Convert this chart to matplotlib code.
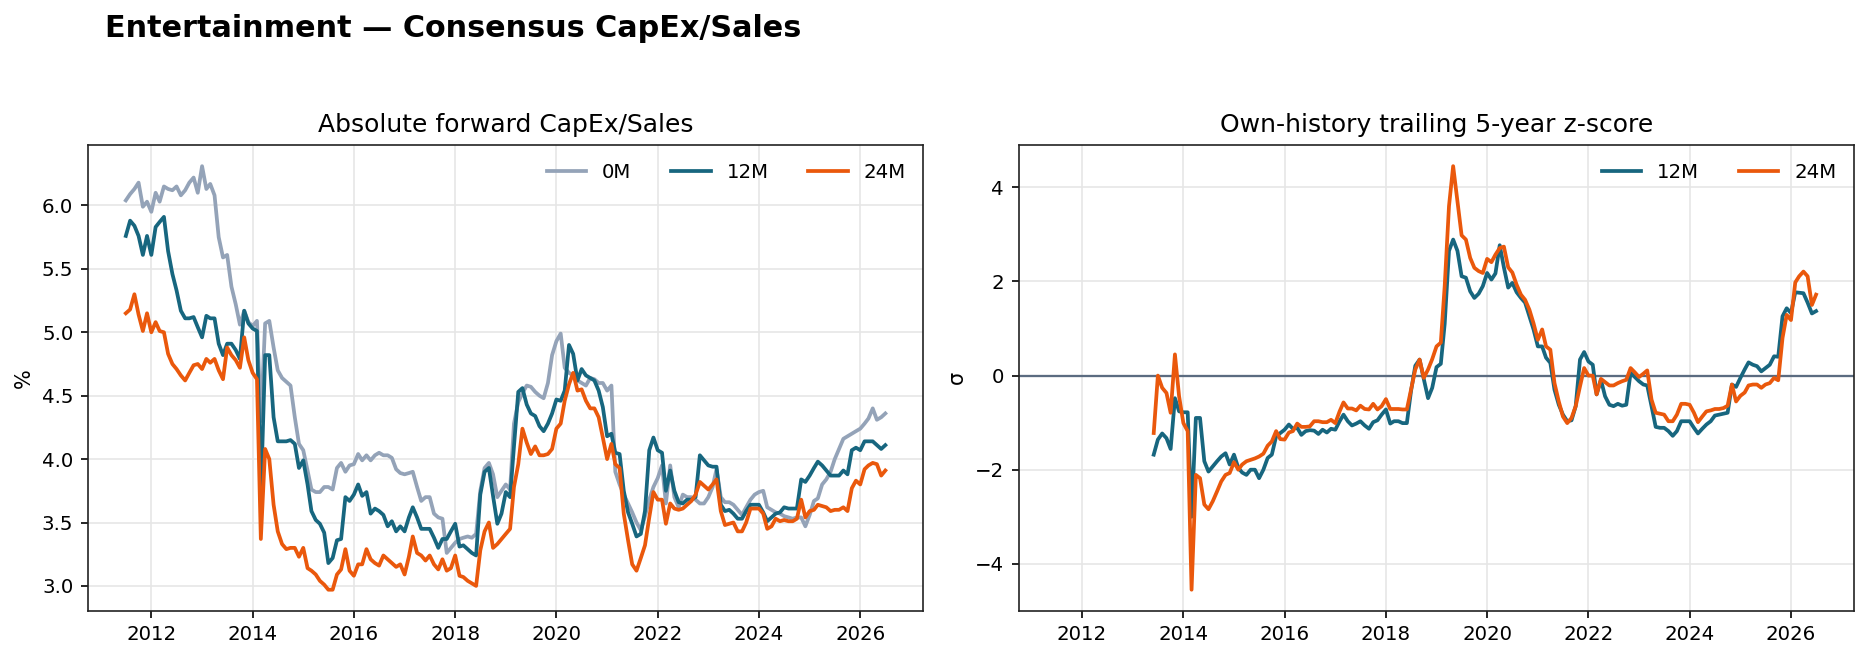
import numpy as np
import pandas as pd
import matplotlib
matplotlib.use("Agg")
import matplotlib.pyplot as plt

# monthly, 2011-07 .. 2026-07
dates = pd.date_range("2011-07-01", periods=181, freq="MS")

capex_0m = [
    6.04, 6.09, 6.13, 6.18, 5.99, 6.03, 5.95, 6.10, 6.03, 6.15,
    6.13, 6.12, 6.15, 6.08, 6.12, 6.18, 6.22, 6.10, 6.31, 6.13,
    6.17, 6.08, 5.75, 5.59, 5.61, 5.36, 5.22, 5.06, 5.17, 5.08,
    5.05, 5.09, 4.30, 5.07, 5.09, 4.88, 4.70, 4.64, 4.61, 4.58,
    4.33, 4.12, 4.07, 3.91, 3.76, 3.74, 3.74, 3.78, 3.78, 3.76,
    3.93, 3.97, 3.90, 3.95, 3.96, 4.04, 3.99, 4.03, 3.99, 4.03,
    4.05, 4.03, 4.03, 4.01, 3.92, 3.89, 3.88, 3.89, 3.90, 3.78,
    3.67, 3.70, 3.70, 3.57, 3.54, 3.53, 3.26, 3.30, 3.34, 3.37,
    3.38, 3.39, 3.38, 3.41, 3.75, 3.93, 3.97, 3.88, 3.70, 3.75,
    3.80, 3.76, 4.28, 4.45, 4.52, 4.58, 4.57, 4.53, 4.50, 4.48,
    4.60, 4.82, 4.93, 4.99, 4.72, 4.68, 4.66, 4.62, 4.60, 4.58,
    4.64, 4.63, 4.60, 4.60, 4.54, 4.58, 3.90, 3.80, 3.72, 3.65,
    3.58, 3.50, 3.44, 3.55, 3.68, 3.78, 3.85, 3.95, 3.65, 3.95,
    3.70, 3.62, 3.72, 3.70, 3.70, 3.68, 3.65, 3.65, 3.70, 3.78,
    3.92, 3.70, 3.66, 3.66, 3.64, 3.60, 3.56, 3.62, 3.68, 3.72,
    3.74, 3.75, 3.62, 3.60, 3.58, 3.57, 3.55, 3.54, 3.53, 3.54,
    3.54, 3.47, 3.56, 3.67, 3.69, 3.80, 3.84, 3.90, 4.00, 4.08,
    4.16, 4.18, 4.20, 4.22, 4.24, 4.28, 4.32, 4.40, 4.31, 4.33, 4.36,
]

capex_12m = [
    5.76, 5.88, 5.84, 5.76, 5.61, 5.76, 5.61, 5.83, 5.87, 5.91,
    5.64, 5.46, 5.33, 5.17, 5.11, 5.11, 5.12, 5.04, 4.96, 5.13,
    5.11, 5.11, 4.91, 4.82, 4.91, 4.91, 4.86, 4.79, 5.17, 5.07,
    5.03, 5.01, 3.70, 4.82, 4.82, 4.33, 4.14, 4.14, 4.14, 4.15,
    4.12, 3.93, 3.99, 3.80, 3.59, 3.52, 3.49, 3.42, 3.18, 3.22,
    3.36, 3.37, 3.70, 3.67, 3.72, 3.80, 3.71, 3.74, 3.57, 3.61,
    3.59, 3.56, 3.47, 3.51, 3.43, 3.47, 3.43, 3.54, 3.62, 3.54,
    3.45, 3.45, 3.45, 3.38, 3.30, 3.37, 3.37, 3.43, 3.49, 3.31,
    3.32, 3.29, 3.26, 3.24, 3.72, 3.90, 3.93, 3.71, 3.49, 3.57,
    3.74, 3.70, 4.10, 4.53, 4.56, 4.43, 4.36, 4.34, 4.26, 4.22,
    4.28, 4.36, 4.47, 4.46, 4.54, 4.90, 4.83, 4.62, 4.71, 4.66,
    4.64, 4.62, 4.54, 4.41, 4.18, 4.20, 4.05, 4.04, 3.75, 3.58,
    3.49, 3.39, 3.41, 3.59, 4.07, 4.17, 4.07, 4.05, 3.75, 3.91,
    3.75, 3.66, 3.65, 3.68, 3.68, 3.70, 4.03, 3.99, 3.95, 3.94,
    3.94, 3.64, 3.59, 3.60, 3.57, 3.53, 3.53, 3.59, 3.64, 3.64,
    3.64, 3.58, 3.51, 3.54, 3.57, 3.58, 3.62, 3.61, 3.61, 3.61,
    3.84, 3.82, 3.87, 3.93, 3.98, 3.95, 3.91, 3.87, 3.87, 3.87,
    3.91, 3.88, 4.07, 4.09, 4.07, 4.14, 4.14, 4.14, 4.11, 4.08, 4.11,
]

capex_24m = [
    5.15, 5.18, 5.30, 5.14, 5.01, 5.15, 5.00, 5.08, 5.01, 5.00,
    4.83, 4.75, 4.71, 4.66, 4.62, 4.68, 4.74, 4.75, 4.71, 4.79,
    4.76, 4.79, 4.70, 4.63, 4.88, 4.82, 4.78, 4.72, 4.96, 4.78,
    4.68, 4.63, 3.37, 4.08, 4.00, 3.64, 3.43, 3.33, 3.29, 3.30,
    3.30, 3.23, 3.30, 3.14, 3.12, 3.09, 3.04, 3.01, 2.97, 2.97,
    3.09, 3.13, 3.29, 3.12, 3.08, 3.17, 3.17, 3.29, 3.21, 3.18,
    3.16, 3.24, 3.21, 3.18, 3.15, 3.17, 3.09, 3.23, 3.39, 3.26,
    3.24, 3.20, 3.24, 3.17, 3.13, 3.21, 3.12, 3.14, 3.24, 3.08,
    3.07, 3.04, 3.02, 3.00, 3.28, 3.43, 3.50, 3.30, 3.33, 3.37,
    3.41, 3.45, 3.78, 3.96, 4.24, 4.13, 4.04, 4.10, 4.03, 4.03,
    4.04, 4.08, 4.24, 4.28, 4.46, 4.59, 4.68, 4.54, 4.55, 4.46,
    4.40, 4.40, 4.33, 4.17, 4.00, 4.12, 3.96, 3.93, 3.57, 3.36,
    3.17, 3.12, 3.22, 3.32, 3.54, 3.74, 3.68, 3.68, 3.49, 3.65,
    3.61, 3.60, 3.61, 3.64, 3.67, 3.72, 3.82, 3.79, 3.76, 3.80,
    3.84, 3.59, 3.48, 3.49, 3.50, 3.43, 3.43, 3.50, 3.61, 3.61,
    3.61, 3.57, 3.45, 3.47, 3.53, 3.51, 3.52, 3.51, 3.51, 3.53,
    3.68, 3.54, 3.59, 3.60, 3.64, 3.63, 3.62, 3.59, 3.60, 3.60,
    3.62, 3.59, 3.77, 3.83, 3.80, 3.92, 3.95, 3.97, 3.96, 3.87, 3.91,
]

# z-scores start once 24 months of history exist (2013-06)
z_start = 23
z_12m = [
    -1.68, -1.36, -1.23, -1.33, -1.56, -0.48, -0.76,
    -0.78, -0.78, -3.00, -0.90, -0.90, -1.82, -2.04, -1.93, -1.82, -1.72,
    -1.65, -1.89, -1.68, -1.96, -2.06, -2.11, -2.00, -2.00, -2.18, -2.00,
    -1.75, -1.68, -1.29, -1.22, -1.15, -1.04, -1.13, -1.11, -1.26, -1.18,
    -1.16, -1.17, -1.24, -1.15, -1.21, -1.13, -1.15, -0.97, -0.83, -0.97,
    -1.06, -1.02, -0.97, -1.06, -1.13, -0.99, -0.95, -0.83, -0.72, -1.02,
    -0.97, -0.97, -1.01, -1.01, -0.33, 0.21, 0.34, -0.07, -0.48, -0.26,
    0.18, 0.25, 1.10, 2.65, 2.89, 2.65, 2.11, 2.08, 1.79, 1.65,
    1.74, 1.90, 2.18, 2.04, 2.17, 2.77, 2.30, 1.87, 1.97, 1.77,
    1.65, 1.55, 1.26, 0.98, 0.62, 0.62, 0.38, 0.27, -0.30, -0.62,
    -0.83, -0.97, -0.95, -0.65, 0.34, 0.50, 0.30, 0.23, -0.40, -0.09,
    -0.44, -0.62, -0.65, -0.60, -0.64, -0.62, 0.06, -0.03, -0.12, -0.19,
    -0.21, -0.65, -1.09, -1.11, -1.11, -1.18, -1.28, -1.18, -0.97, -0.97,
    -0.97, -1.11, -1.23, -1.13, -1.04, -0.97, -0.85, -0.83, -0.81, -0.79,
    -0.19, -0.24, -0.05, 0.13, 0.28, 0.23, 0.20, 0.09, 0.16, 0.23,
    0.41, 0.40, 1.26, 1.43, 1.33, 1.77, 1.76, 1.75, 1.55, 1.32, 1.37,
]
z_24m = [
    -1.22, 0.00, -0.26, -0.37, -0.79, 0.45, -0.44,
    -1.01, -1.18, -4.55, -2.11, -2.18, -2.74, -2.84, -2.67, -2.46, -2.25,
    -2.11, -2.07, -1.84, -2.00, -1.89, -1.82, -1.79, -1.76, -1.72, -1.66,
    -1.49, -1.40, -1.18, -1.35, -1.36, -1.21, -1.18, -1.02, -1.09, -1.09,
    -1.08, -0.97, -0.97, -0.99, -0.99, -0.94, -1.01, -0.76, -0.57, -0.70,
    -0.70, -0.74, -0.64, -0.71, -0.72, -0.60, -0.72, -0.65, -0.50, -0.71,
    -0.71, -0.71, -0.72, -0.72, -0.30, 0.13, 0.34, -0.05, 0.13, 0.35,
    0.62, 0.70, 1.90, 3.60, 4.45, 3.70, 2.98, 2.89, 2.50, 2.29,
    2.22, 2.18, 2.48, 2.41, 2.57, 2.71, 2.74, 2.30, 2.19, 1.93,
    1.72, 1.61, 1.40, 1.11, 0.76, 0.98, 0.62, 0.55, -0.16, -0.55,
    -0.87, -1.01, -0.90, -0.65, -0.23, 0.16, 0.00, 0.00, -0.40, -0.07,
    -0.14, -0.21, -0.21, -0.16, -0.12, -0.09, 0.16, 0.07, -0.03, 0.04,
    0.11, -0.51, -0.79, -0.81, -0.83, -0.97, -0.97, -0.83, -0.60, -0.60,
    -0.62, -0.79, -0.99, -0.87, -0.76, -0.74, -0.71, -0.71, -0.69, -0.64,
    -0.19, -0.55, -0.43, -0.36, -0.21, -0.19, -0.19, -0.26, -0.19, -0.16,
    -0.05, -0.10, 0.80, 1.29, 1.18, 1.98, 2.11, 2.21, 2.11, 1.50, 1.72,
]

C_0M = "#94a3b8"
C_12M = "#17667f"
C_24M = "#ea580c"
C_ZERO = "#5b6b80"

fig, (ax1, ax2) = plt.subplots(1, 2, figsize=(1869 / 150, 659 / 150), dpi=150, sharex=True)
fig.subplots_adjust(left=0.047, right=0.992, bottom=0.073, top=0.78, wspace=0.114)

ax1.plot(dates, capex_0m, color=C_0M, lw=1.8, label="0M")
ax1.plot(dates, capex_12m, color=C_12M, lw=1.8, label="12M")
ax1.plot(dates, capex_24m, color=C_24M, lw=1.8, label="24M")
ax1.set_title("Absolute forward CapEx/Sales", fontsize=12)
ax1.set_ylabel("%")
ax1.legend(loc="upper right", ncol=3, frameon=False, fontsize=9.5)

zd = dates[z_start:]
ax2.axhline(0, color=C_ZERO, lw=1.1, zorder=1)
ax2.plot(zd, z_12m, color=C_12M, lw=1.8, label="12M")
ax2.plot(zd, z_24m, color=C_24M, lw=1.8, label="24M")
ax2.set_title("Own-history trailing 5-year z-score", fontsize=12)
ax2.set_ylabel("σ")
ax2.legend(loc="upper right", ncol=2, frameon=False, fontsize=9.5)

for ax in (ax1, ax2):
    ax.grid(True, color="#e6e6e6", lw=0.8)
    ax.set_axisbelow(True)
    for s in ax.spines.values():
        s.set_color("#222222")
    ax.tick_params(labelsize=9.5)
    ax.xaxis.set_tick_params(labelbottom=True)

fig.text(0.056, 0.957, "Entertainment — Consensus CapEx/Sales", fontsize=14.5,
         fontweight="bold", ha="left", va="center")

fig.savefig("out.png", dpi=150)
